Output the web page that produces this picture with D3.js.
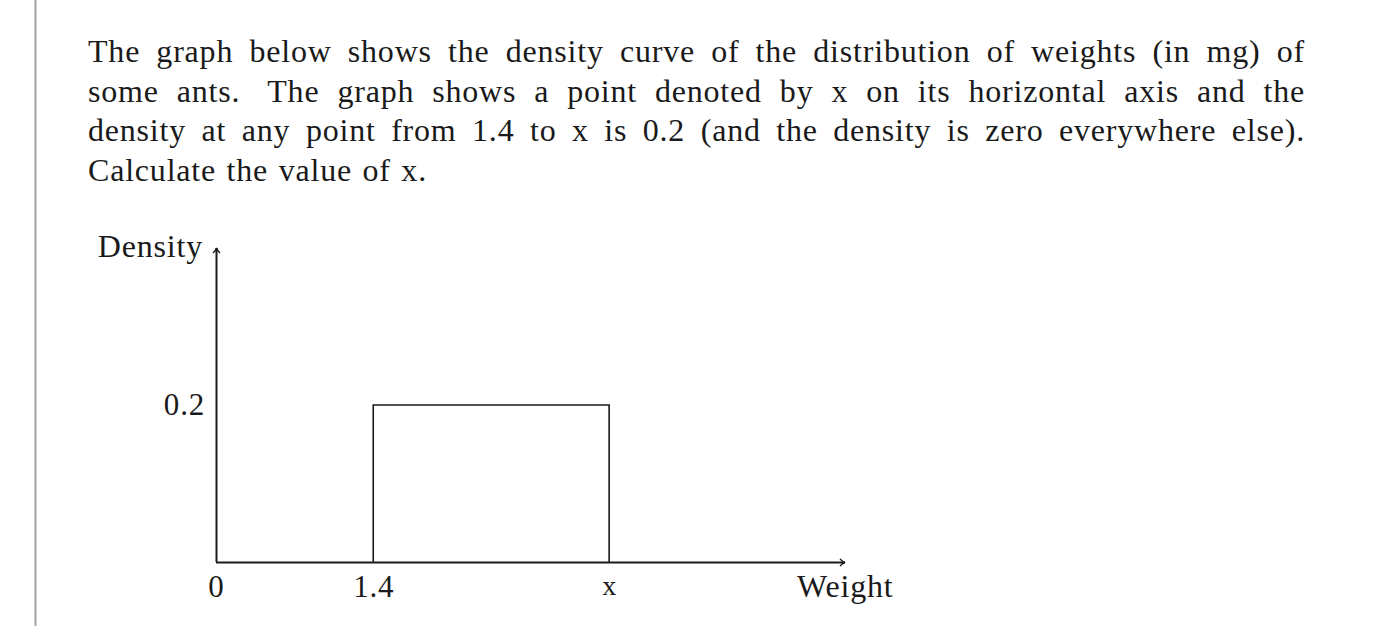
<!DOCTYPE html>
<html>
<head>
<meta charset="utf-8">
<script src="https://cdn.jsdelivr.net/npm/d3@7/dist/d3.min.js"></script>
<style>
  html, body { margin: 0; padding: 0; background: #fff; }
  svg { display: block; }
  text { font-family: "Liberation Serif", "Times New Roman", serif; fill: #1a1a1a; }
</style>
</head>
<body>
<svg id="chart" width="1398" height="628"></svg>
<script>
// ---- data ----
const paragraphLines = [
  "The graph below shows the density curve of the distribution of weights (in mg) of",
  "some ants. The graph shows a point denoted by x on its horizontal axis and the",
  "density at any point from 1.4 to x is 0.2 (and the density is zero everywhere else).",
  "Calculate the value of x."
];
const xTickValues = [0, 1.4, 3.5];
const xTickLabels = ["0", "1.4", "x"];
const yTickValues = [0.2];
const yTickLabels = ["0.2"];
const barStart = [1.4];
const barEnd = [3.5];
const barDensity = [0.2];
const xAxisTitle = "Weight";
const yAxisTitle = "Density";

// ---- layout ----
const svg = d3.select("#chart");
const W = 1398, H = 628;
svg.append("rect").attr("width", W).attr("height", H).attr("fill", "#fff");

// left page border
svg.append("line").attr("x1", 35.5).attr("x2", 35.5).attr("y1", 0).attr("y2", 626)
  .attr("stroke", "#a3a3a3").attr("stroke-width", 2);

// justified paragraph
const textLeft = 88, textRight = 1305, firstBaseline = 62, lineGap = 39.5, fs = 32, ls = 0.8;
paragraphLines.forEach((line, i) => {
  const words = line.split(" ");
  const y = firstBaseline + i * lineGap;
  const g = svg.append("g");
  const nodes = words.map(w => g.append("text").attr("y", y).attr("font-size", fs)
    .attr("letter-spacing", ls).text(w));
  const widths = nodes.map(n => n.node().getComputedTextLength());
  const total = d3.sum(widths);
  const last = i === paragraphLines.length - 1;
  const weights = words.slice(0, -1).map(w => /\.$/.test(w) ? 1.5 : 1);
  const wsum = d3.sum(weights);
  const unit = last ? fs * 0.33 : (textRight - textLeft - total) / wsum;
  let x = textLeft;
  nodes.forEach((n, k) => {
    n.attr("x", x);
    x += widths[k] + (k < weights.length ? weights[k] * unit : 0);
  });
});

// scales
const x = d3.scaleLinear().domain([0, 5.6]).range([216, 845]);
const y = d3.scaleLinear().domain([0, 0.4]).range([562, 248]);

// arrow marker
const defs = svg.append("defs");
defs.append("marker").attr("id", "arrow")
  .attr("viewBox", "-6 -5 8 10").attr("refX", 0).attr("refY", 0)
  .attr("markerWidth", 8).attr("markerHeight", 10).attr("markerUnits", "userSpaceOnUse")
  .attr("orient", "auto")
  .append("path").attr("d", "M-5,-3.5 Q-2,-0.5 0,0 Q-2,0.5 -5,3.5")
  .attr("fill", "none").attr("stroke", "#1a1a1a").attr("stroke-width", 1.3);

// bar (uniform density)
svg.append("g").selectAll("path").data(barStart.map((s, i) => ({ s, e: barEnd[i], d: barDensity[i] })))
  .join("path")
  .attr("d", d => `M${x(d.s)},${y(0)}V${y(d.d)}H${x(d.e)}V${y(0)}`)
  .attr("fill", "none").attr("stroke", "#1a1a1a").attr("stroke-width", 1.6);

// x axis
const xAxis = d3.axisBottom(x).tickValues(xTickValues)
  .tickFormat((d, i) => xTickLabels[i]).tickSize(0).tickSizeOuter(0).tickPadding(13);
const gx = svg.append("g").attr("transform", `translate(0,${y(0)})`).call(xAxis);
gx.select(".domain").attr("stroke", "#1a1a1a").attr("stroke-width", 2).attr("marker-end", "url(#arrow)");
gx.selectAll(".tick text").attr("font-size", 31).attr("font-family", "Liberation Serif, serif")
  .attr("fill", "#1a1a1a").attr("letter-spacing", ls);
gx.selectAll(".tick text").filter((d, i) => xTickLabels[i] === "x").attr("font-size", 28);

// y axis
const yAxis = d3.axisLeft(y).tickValues(yTickValues)
  .tickFormat((d, i) => yTickLabels[i]).tickSize(0).tickSizeOuter(0).tickPadding(11);
const gy = svg.append("g").attr("transform", `translate(${x(0)},0)`).call(yAxis);
gy.select(".domain").attr("stroke", "#1a1a1a").attr("stroke-width", 2).attr("marker-end", "url(#arrow)");
gy.selectAll(".tick text").attr("font-size", 31).attr("font-family", "Liberation Serif, serif")
  .attr("fill", "#1a1a1a").attr("letter-spacing", ls);

// domain paths drawn toward the arrow tips
gy.select(".domain").attr("d", `M0.5,${y(0)}V${y(0.4)}`);
gx.select(".domain").attr("d", `M${x(0)},0.5H${x(5.6)}`);

// axis titles
svg.append("text").attr("x", 797).attr("y", 597).attr("font-size", 32).attr("letter-spacing", ls).text(xAxisTitle);
svg.append("text").attr("x", 203).attr("y", 257).attr("text-anchor", "end").attr("font-size", 32)
  .attr("letter-spacing", ls).text(yAxisTitle);
</script>
</body>
</html>
